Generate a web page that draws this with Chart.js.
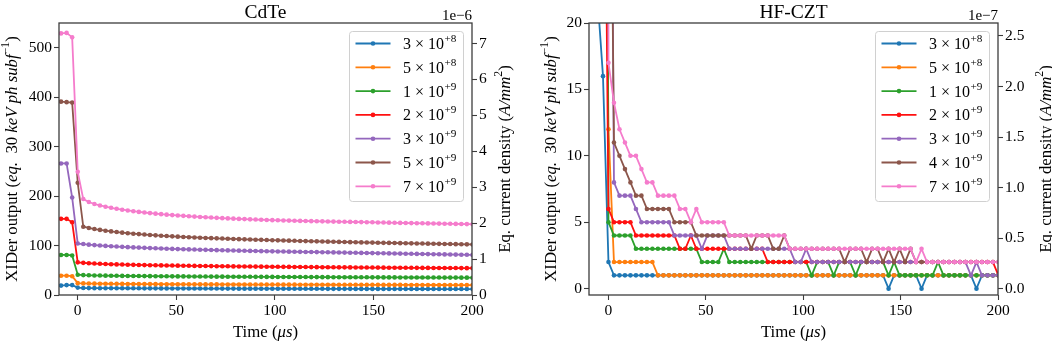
<!DOCTYPE html>
<html>
<head>
<meta charset="utf-8">
<title>XIDer output vs time</title>
<script src="https://cdn.jsdelivr.net/npm/chart.js@4.4.1/dist/chart.umd.min.js"></script>
<style>
  html, body { margin: 0; padding: 0; background: #fff; }
  #wrap { position: relative; width: 1052px; height: 342px; }
  canvas { position: absolute; top: 0; }
</style>
</head>
<body>
<div id="wrap">
  <canvas id="cdteChart" width="526" height="342" style="left:0"></canvas>
  <canvas id="cztChart" width="526" height="342" style="left:526px"></canvas>
</div>
<script>
// sample times in us (read-out step about 2.82 us)
const time = [-11.28, -8.46, -5.64, -2.82, 0, 2.82, 5.64, 8.46, 11.28, 14.1, 16.92, 19.74, 22.56, 25.38, 28.2,
  31.02, 33.84, 36.66, 39.48, 42.3, 45.12, 47.94, 50.76, 53.58, 56.4, 59.22, 62.04, 64.86, 67.68, 70.5,
  73.32, 76.14, 78.96, 81.78, 84.6, 87.42, 90.24, 93.06, 95.88, 98.7, 101.52, 104.34, 107.16, 109.98, 112.8,
  115.62, 118.44, 121.26, 124.08, 126.9, 129.72, 132.54, 135.36, 138.18, 141, 143.82, 146.64, 149.46, 152.28,
  155.1, 157.92, 160.74, 163.56, 166.38, 169.2, 172.02, 174.84, 177.66, 180.48, 183.3, 186.12, 188.94,
  191.76, 194.58, 197.4, 200.22];

// photon rates of the legends: [mantissa, exponent]
const cdteRates = [[3, 8], [5, 8], [1, 9], [2, 9], [3, 9], [5, 9], [7, 9]];
const cztRates = [[3, 8], [5, 8], [1, 9], [2, 9], [3, 9], [4, 9], [7, 9]];

// CdTe, XIDer output per sample
const cdte3e8 = [19, 19, 20, 20, 15,
  14.2, 14.0, 13.9, 13.8, 13.8, 13.7, 13.7, 13.6, 13.6, 13.5,
  13.5, 13.4, 13.4, 13.4, 13.3, 13.3, 13.2, 13.2, 13.2, 13.1,
  13.1, 13.1, 13.0, 13.0, 13.0, 12.9, 12.9, 12.9, 12.8, 12.8,
  12.8, 12.8, 12.7, 12.7, 12.7, 12.7, 12.6, 12.6, 12.6, 12.6,
  12.5, 12.5, 12.5, 12.5, 12.4, 12.4, 12.4, 12.4, 12.4, 12.3,
  12.3, 12.3, 12.3, 12.3, 12.2, 12.2, 12.2, 12.2, 12.2, 12.1,
  12.1, 12.1, 12.1, 12.1, 12.0, 12.0, 12.0, 12.0, 12.0, 12.0, 11.9];
const cdte5e8 = [38, 39, 39, 38, 24,
  23.5, 23.2, 23.0, 22.8, 22.7, 22.6, 22.5, 22.4, 22.3, 22.2,
  22.1, 22.0, 22.0, 21.9, 21.8, 21.8, 21.7, 21.7, 21.6, 21.6,
  21.5, 21.5, 21.4, 21.4, 21.4, 21.3, 21.3, 21.2, 21.2, 21.2,
  21.1, 21.1, 21.1, 21.0, 21.0, 21.0, 20.9, 20.9, 20.9, 20.8,
  20.8, 20.8, 20.8, 20.7, 20.7, 20.7, 20.6, 20.6, 20.6, 20.6,
  20.5, 20.5, 20.5, 20.5, 20.4, 20.4, 20.4, 20.4, 20.3, 20.3,
  20.3, 20.3, 20.2, 20.2, 20.2, 20.2, 20.1, 20.1, 20.1, 20.1, 20.0];
const cdte1e9 = [81, 81, 81, 80, 41,
  40.2, 39.8, 39.5, 39.3, 39.1, 38.9, 38.8, 38.6, 38.5, 38.4,
  38.3, 38.2, 38.1, 38.0, 37.9, 37.8, 37.7, 37.6, 37.6, 37.5,
  37.4, 37.3, 37.3, 37.2, 37.1, 37.1, 37.0, 36.9, 36.9, 36.8,
  36.8, 36.7, 36.7, 36.6, 36.6, 36.5, 36.5, 36.4, 36.4, 36.3,
  36.3, 36.2, 36.2, 36.1, 36.1, 36.0, 36.0, 35.9, 35.9, 35.8,
  35.8, 35.8, 35.7, 35.7, 35.6, 35.6, 35.6, 35.5, 35.5, 35.4,
  35.4, 35.4, 35.3, 35.3, 35.3, 35.2, 35.2, 35.2, 35.1, 35.1, 35.0];
const cdte2e9 = [154, 154, 154, 147, 66,
  65.0, 64.2, 63.6, 63.1, 62.6, 62.2, 61.9, 61.6, 61.3, 61.0,
  60.8, 60.5, 60.3, 60.1, 59.9, 59.7, 59.5, 59.3, 59.2, 59.0,
  58.8, 58.7, 58.5, 58.4, 58.2, 58.1, 58.0, 57.8, 57.7, 57.6,
  57.5, 57.4, 57.3, 57.2, 57.1, 57.0, 56.9, 56.8, 56.7, 56.6,
  56.5, 56.4, 56.3, 56.2, 56.1, 56.0, 55.9, 55.9, 55.8, 55.7,
  55.6, 55.5, 55.5, 55.4, 55.3, 55.2, 55.2, 55.1, 55.0, 55.0,
  54.9, 54.8, 54.8, 54.7, 54.6, 54.6, 54.5, 54.5, 54.4, 54.3, 54.3];
const cdte3e9 = [266, 266, 266, 197, 104,
  103.0, 101.8, 100.9, 100.1, 99.3, 98.6, 98.0, 97.4, 96.8, 96.3,
  95.8, 95.3, 94.8, 94.4, 94.0, 93.6, 93.2, 92.8, 92.5, 92.2,
  91.9, 91.6, 91.3, 91.0, 90.7, 90.4, 90.2, 89.9, 89.7, 89.4,
  89.2, 89.0, 88.7, 88.5, 88.3, 88.1, 87.9, 87.7, 87.5, 87.3,
  87.1, 86.9, 86.7, 86.5, 86.3, 86.1, 85.9, 85.7, 85.5, 85.3,
  85.1, 84.9, 84.7, 84.5, 84.3, 84.1, 83.9, 83.7, 83.5, 83.3,
  83.1, 82.9, 82.7, 82.5, 82.3, 82.1, 81.9, 81.7, 81.5, 81.3, 81.1];
const cdte5e9 = [391, 391, 390, 389, 227,
  138, 135.5, 133.4, 131.6, 130.0, 128.6, 127.3, 126.1, 125.0, 124.0,
  123.1, 122.2, 121.4, 120.6, 119.9, 119.2, 118.6, 118.0, 117.4, 116.9,
  116.4, 115.9, 115.4, 115.0, 114.5, 114.1, 113.7, 113.3, 112.9, 112.5,
  112.2, 111.8, 111.5, 111.1, 110.8, 110.5, 110.2, 109.9, 109.6, 109.3,
  109.0, 108.7, 108.5, 108.2, 107.9, 107.7, 107.4, 107.2, 106.9, 106.7,
  106.4, 106.2, 106.0, 105.7, 105.5, 105.3, 105.1, 104.8, 104.6, 104.4,
  104.2, 104.0, 103.8, 103.6, 103.4, 103.2, 103.0, 102.8, 102.6, 102.4, 102.2];
const cdte7e9 = [528, 529, 530, 521, 249,
  194, 188, 184, 181, 178.5, 176.3, 174.3, 172.5, 170.9, 169.4,
  168.0, 166.8, 165.6, 164.5, 163.5, 162.5, 161.6, 160.8, 160.0, 159.2,
  158.5, 157.8, 157.2, 156.6, 156.0, 155.4, 154.9, 154.4, 153.9, 153.5,
  153.0, 152.6, 152.2, 151.8, 151.4, 151.0, 150.7, 150.4, 150.1, 149.8,
  149.6, 149.3, 149.1, 148.9, 148.6, 148.4, 148.2, 148.0, 147.8, 147.6,
  147.4, 147.2, 147.0, 146.7, 146.5, 146.3, 146.0, 145.8, 145.6, 145.4,
  145.2, 145.0, 144.8, 144.6, 144.4, 144.2, 144.0, 143.8, 143.6, 143.4, 143.2];

// HF-CZT, XIDer output per sample (counts)
const czt3e8 = [23, 23, 22, 16, 2,
  1, 1, 1, 1, 1, 1, 1, 1, 1, 1,
  1, 1, 1, 1, 1, 1, 1, 1, 1, 1,
  1, 1, 1, 1, 1, 1, 1, 1, 1, 1,
  1, 1, 1, 1, 1, 1, 1, 1, 1, 1,
  1, 1, 1, 1, 1, 1, 1, 1, 1, 1,
  0, 1, 1, 1, 1, 1, 0, 1, 1, 1,
  1, 1, 1, 1, 1, 1, 0, 1, 1, 1, 1];
const czt5e8 = [57, 57, 57, 57, 12,
  2, 2, 2, 2, 2, 2, 2, 2, 1, 1,
  1, 1, 1, 1, 1, 1, 1, 1, 1, 1,
  1, 1, 1, 1, 1, 1, 1, 1, 1, 1,
  1, 1, 1, 1, 1, 1, 1, 1, 1, 1,
  1, 1, 1, 1, 1, 1, 1, 1, 1, 1,
  1, 1, 1, 1, 1, 1, 1, 1, 1, 1,
  1, 1, 1, 1, 1, 1, 1, 1, 1, 1, 1];
const czt1e9 = [126, 126, 126, 126, 5,
  4, 4, 4, 4, 3, 3, 3, 3, 3, 3,
  3, 3, 3, 3, 3, 3, 2, 2, 2, 2,
  3, 2, 2, 2, 2, 2, 2, 2, 2, 2,
  2, 2, 2, 2, 2, 2, 1, 2, 2, 2,
  1, 2, 2, 2, 1, 2, 2, 2, 2, 2,
  1, 2, 1, 1, 1, 1, 1, 1, 1, 2,
  1, 1, 1, 1, 1, 1, 1, 1, 1, 1, 1];
const czt2e9 = [50, 50, 50, 50, 6,
  5, 5, 5, 5, 4, 4, 4, 4, 4, 4,
  4, 4, 3, 3, 4, 3, 3, 3, 3, 3,
  3, 3, 3, 3, 3, 3, 3, 3, 2, 2,
  2, 2, 2, 2, 2, 2, 2, 2, 2, 2,
  2, 2, 2, 2, 2, 2, 2, 2, 2, 2,
  2, 2, 2, 2, 2, 2, 2, 2, 2, 2,
  2, 2, 2, 2, 2, 2, 2, 2, 2, 2, 1];
const czt3e9 = [70, 70, 70, 70, 70,
  8, 7, 7, 7, 6, 5, 5, 5, 5, 5,
  5, 4, 4, 4, 4, 4, 3, 4, 4, 4,
  4, 3, 3, 3, 3, 3, 3, 3, 3, 3,
  3, 3, 3, 2, 2, 3, 2, 2, 2, 2,
  2, 2, 2, 2, 2, 2, 2, 2, 2, 2,
  2, 2, 2, 2, 2, 2, 2, 2, 2, 2,
  2, 2, 2, 2, 2, 1, 2, 1, 1, 1, 1];
const czt4e9 = [52, 52, 52, 52, 52,
  11, 10, 9, 8, 7, 7, 6, 6, 6, 6,
  6, 5, 5, 5, 5, 4, 4, 4, 4, 4,
  4, 4, 4, 4, 4, 3, 4, 4, 4, 3,
  3, 4, 3, 3, 3, 3, 3, 3, 3, 3,
  3, 3, 2, 3, 3, 3, 2, 3, 3, 2,
  3, 2, 3, 2, 3, 2, 2, 2, 2, 2,
  2, 2, 2, 2, 2, 2, 2, 2, 2, 2, 2];
const czt7e9 = [300, 300, 300, 300, 17,
  14, 12, 11, 10, 10, 9, 8, 8, 7, 7,
  7, 7, 6, 6, 5, 6, 5, 5, 5, 5,
  5, 4, 4, 4, 4, 4, 4, 4, 4, 4,
  4, 4, 3, 3, 3, 3, 3, 3, 3, 3,
  3, 3, 3, 3, 3, 3, 3, 3, 3, 3,
  3, 3, 3, 3, 3, 2, 3, 2, 2, 2,
  2, 2, 2, 2, 2, 2, 2, 2, 2, 2, 2];

// tick values
const timeTicks = [0, 50, 100, 150, 200];
const cdteOutputTicks = [0, 100, 200, 300, 400, 500];
const cdteCurrentTicks = [0, 1, 2, 3, 4, 5, 6, 7];
const cztOutputTicks = [0, 5, 10, 15, 20];
const cztCurrentTicks = [0, 0.5, 1.0, 1.5, 2.0, 2.5];

const seriesColors = ['#1f77b4', '#ff7f0e', '#2ca02c', '#ff1010', '#9467bd', '#8c564b', '#f57ccc'];
const serif = '"Liberation Serif", "Times New Roman", serif';
const spineColor = '#3c3c3c';

const outputTitle = [
  { t: 'XIDer output (' }, { t: 'eq.', i: true }, { t: '  30 ' },
  { t: 'keV ph subf', i: true }, { t: '\u22121', s: true }, { t: ')' }
];
const currentTitle = [{ t: 'Eq. current density (' }, { t: 'A/mm', i: true }, { t: '2', s: true }, { t: ')' }];
const timeTitle = [{ t: 'Time (' }, { t: '\u03bcs', i: true }, { t: ')' }];

// text made of pieces (italic / superscript), centred on x, y
function drawRich(ctx, parts, x, y, size, vertical) {
    const fontOf = p => `${p.i ? 'italic ' : ''}${p.s ? size * 0.7 : size}px ${serif}`;
    ctx.save();
    ctx.translate(x, y);
    if (vertical) ctx.rotate(-Math.PI / 2);
    let total = 0;
    parts.forEach(p => {
        ctx.font = fontOf(p);
        total += ctx.measureText(p.t).width;
    });
    let cx = -total / 2;
    ctx.fillStyle = '#000';
    ctx.textAlign = 'left';
    ctx.textBaseline = 'alphabetic';
    parts.forEach(p => {
        ctx.font = fontOf(p);
        ctx.fillText(p.t, cx, size * 0.33 - (p.s ? size * 0.45 : 0));
        cx += ctx.measureText(p.t).width;
    });
    ctx.restore();
}

function drawLegend(ctx, area, rates) {
    const w = 114, h = 170;
    const left = area.right - 8.5 - w;
    const top = area.top + 8.5;
    ctx.save();
    ctx.beginPath();
    ctx.roundRect(left, top, w, h, 3);
    ctx.fillStyle = 'rgba(255,255,255,0.85)';
    ctx.fill();
    ctx.strokeStyle = '#d0d0d0';
    ctx.lineWidth = 1;
    ctx.stroke();

    rates.forEach(([m, e], i) => {
        const y = top + 12 + i * 23.8;
        ctx.strokeStyle = seriesColors[i];
        ctx.fillStyle = seriesColors[i];
        ctx.lineWidth = 1.8;
        ctx.beginPath();
        ctx.moveTo(left + 6, y);
        ctx.lineTo(left + 41, y);
        ctx.stroke();
        ctx.beginPath();
        ctx.arc(left + 23.5, y, 2.3, 0, Math.PI * 2);
        ctx.fill();

        ctx.fillStyle = '#000';
        ctx.textAlign = 'left';
        ctx.textBaseline = 'alphabetic';
        ctx.font = `16px ${serif}`;
        const base = `${m} \u00d7 10`;
        ctx.fillText(base, left + 53.5, y + 5.5);
        const bw = ctx.measureText(base).width;
        ctx.font = `11.2px ${serif}`;
        ctx.fillText(`+${e}`, left + 53.5 + bw + 0.5, y - 1.5);
    });
    ctx.restore();
}

function axisSetup(values, decimals, width) {
    return {
        afterBuildTicks: scale => { scale.ticks = values.map(v => ({ value: v })); },
        afterFit: scale => {
            if (scale.isHorizontal()) scale.height = width;
            else scale.width = width;
        },
        border: { display: false },
        grid: { display: true, drawOnChartArea: false, drawTicks: true, tickLength: 5, tickColor: spineColor, tickWidth: 1.1 },
        ticks: {
            color: '#000',
            font: { family: serif, size: 15.5 },
            padding: 2,
            autoSkip: false,
            maxRotation: 0,
            callback: v => v.toFixed(decimals)
        }
    };
}

function makePanel(canvasId, p) {
    const datasets = p.series.map((values, i) => ({
        label: `${p.rates[i][0]}\u00d710+${p.rates[i][1]}`,
        data: time.map((t, j) => ({ x: t, y: values[j] })),
        borderColor: seriesColors[i],
        backgroundColor: seriesColors[i],
        pointBackgroundColor: seriesColors[i],
        pointBorderColor: seriesColors[i],
        borderWidth: 1.8,
        pointRadius: 2.3,
        pointBorderWidth: 0,
        tension: 0,
        yAxisID: 'y',
        order: p.series.length - i
    }));

    const overlay = {
        id: 'overlay',
        afterDatasetsDraw(chart) {
            const { ctx, chartArea: a } = chart;
            ctx.save();
            ctx.strokeStyle = spineColor;
            ctx.lineWidth = 1.3;
            ctx.strokeRect(a.left, a.top, a.right - a.left, a.bottom - a.top);
            ctx.restore();
        },
        afterDraw(chart) {
            const { ctx, chartArea: a } = chart;
            drawLegend(ctx, a, p.rates);

            ctx.save();
            ctx.fillStyle = '#000';
            ctx.font = `19.5px ${serif}`;
            ctx.textAlign = 'center';
            ctx.textBaseline = 'alphabetic';
            ctx.fillText(p.title, (a.left + a.right) / 2, 17.5);
            ctx.font = `15px ${serif}`;
            ctx.textAlign = 'right';
            ctx.fillText(p.offsetText, a.right, 20);
            ctx.restore();

            drawRich(ctx, outputTitle, p.leftTitleX, (a.top + a.bottom) / 2, 16.8, true);
            drawRich(ctx, currentTitle, p.rightTitleX, (a.top + a.bottom) / 2, 16.8, true);
            drawRich(ctx, timeTitle, (a.left + a.right) / 2, 331, 16.8, false);
        }
    };

    return new Chart(document.getElementById(canvasId), {
        type: 'line',
        data: { datasets },
        options: {
            responsive: false,
            animation: false,
            devicePixelRatio: 1,
            layout: { padding: { top: 23, left: 0, right: 0, bottom: 0 } },
            plugins: { legend: { display: false }, title: { display: false }, tooltip: { enabled: false } },
            scales: {
                x: { type: 'linear', min: p.xMin, max: 200, ...axisSetup(timeTicks, 0, 47) },
                y: { type: 'linear', position: 'left', min: p.yMin, max: p.yMax, ...axisSetup(p.leftTicks, 0, p.leftWidth) },
                yCurrent: { type: 'linear', position: 'right', min: p.cMin, max: p.cMax, ...axisSetup(p.rightTicks, p.rightDecimals, 54) }
            }
        },
        plugins: [overlay]
    });
}

makePanel('cdteChart', {
    title: 'CdTe',
    offsetText: '1e\u22126',
    series: [cdte3e8, cdte5e8, cdte1e9, cdte2e9, cdte3e9, cdte5e9, cdte7e9],
    rates: cdteRates,
    xMin: -9.5,
    yMin: 0, yMax: 550,
    cMin: 0, cMax: 7.57,
    leftTicks: cdteOutputTicks,
    rightTicks: cdteCurrentTicks,
    rightDecimals: 0,
    leftWidth: 59,
    leftTitleX: 11,
    rightTitleX: 504
});

makePanel('cztChart', {
    title: 'HF-CZT',
    offsetText: '1e\u22127',
    series: [czt3e8, czt5e8, czt1e9, czt2e9, czt3e9, czt4e9, czt7e9],
    rates: cztRates,
    xMin: -10,
    yMin: -0.48, yMax: 20,
    cMin: -0.0625, cMax: 2.628,
    leftTicks: cztOutputTicks,
    rightTicks: cztCurrentTicks,
    rightDecimals: 1,
    leftWidth: 63,
    leftTitleX: 24,
    rightTitleX: 519
});
</script>
</body>
</html>
